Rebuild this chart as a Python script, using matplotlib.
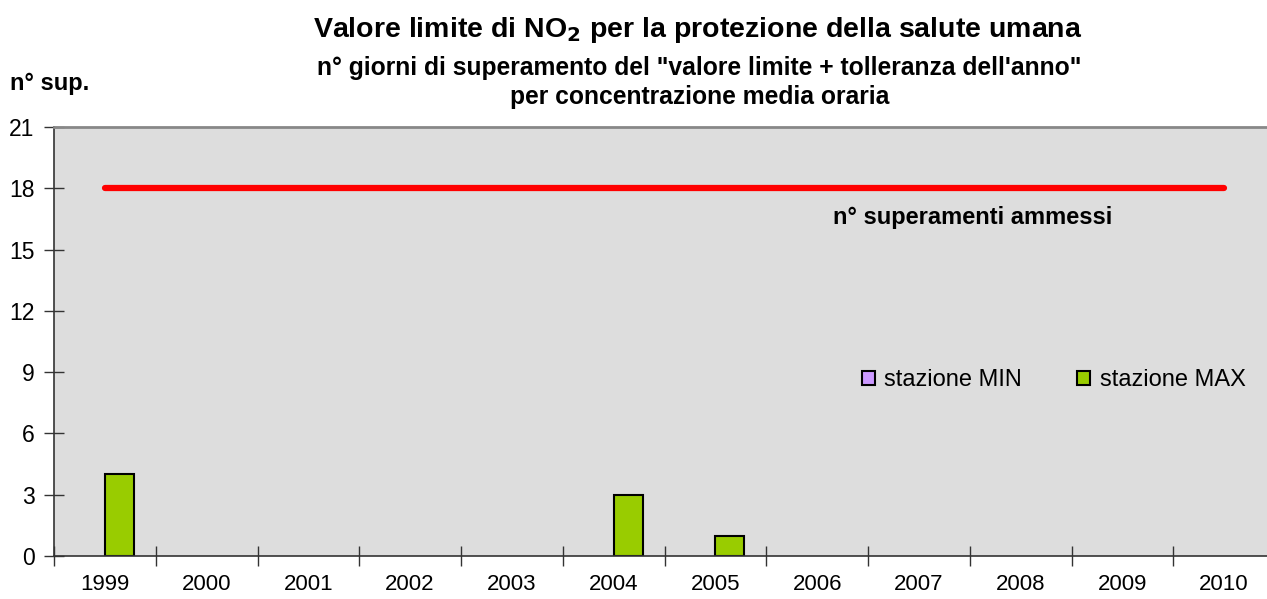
import numpy as np
import matplotlib.pyplot as plt

plt.rcParams['font.family'] = ['Liberation Sans', 'DejaVu Sans']

# Dati
anni = ['1999', '2000', '2001', '2002', '2003', '2004',
        '2005', '2006', '2007', '2008', '2009', '2010']
stazione_min = [0, 0, 0, 0, 0, 0, 0, 0, 0, 0, 0, 0]
stazione_max = [4, 0, 0, 0, 0, 3, 1, 0, 0, 0, 0, 0]
sup_ammessi = [18] * len(anni)

x = np.arange(len(anni))
w = 0.285

fig = plt.figure(figsize=(12.67, 5.99), dpi=100)
ax = fig.add_axes([54 / 1267, 43 / 599, 1221 / 1267, 429 / 599])
ax.set_facecolor('#DDDDDD')

ax.bar(x - w / 2, stazione_min, w, color='#CC99FF', edgecolor='black',
       linewidth=[1.5 if v > 0 else 0 for v in stazione_min], label='stazione MIN')
ax.bar(x + w / 2, stazione_max, w, color='#99CC00', edgecolor='black',
       linewidth=[1.5 if v > 0 else 0 for v in stazione_max], label='stazione MAX')
ax.plot(x, sup_ammessi, color='#FF0000', linewidth=4.5, solid_capstyle='round')

ax.set_xlim(-0.5, len(anni) - 0.5)
ax.set_ylim(0, 21)
ax.set_yticks(range(0, 22, 3))

# tacche ai bordi delle categorie, etichette al centro
ax.set_xticks(np.arange(len(anni) + 1) - 0.5)
ax.set_xticklabels([])
ax.set_xticks(x, minor=True)
ax.set_xticklabels(anni, minor=True)
ax.tick_params(axis='x', which='major', direction='inout', length=14, width=1, color='#333333')
ax.tick_params(axis='x', which='minor', length=0, pad=13, labelsize=16)
ax.tick_params(axis='y', direction='inout', length=14, width=1, color='#333333',
               labelsize=16.5, pad=7)

for s in ['left', 'bottom']:
    ax.spines[s].set_color('#333333')
    ax.spines[s].set_linewidth(1.2)
ax.spines['top'].set_color('#888888')
ax.spines['top'].set_linewidth(2)
ax.spines['right'].set_visible(False)

ax.text(0.638, 0.79, 'n° superamenti ammessi', transform=ax.transAxes,
        fontsize=17, fontweight='bold', ha='left', va='center')

leg = ax.legend(loc='center left', bbox_to_anchor=(0.644, 0.41), ncol=2, frameon=False,
                fontsize=17, handlelength=0.55, handleheight=0.55, handletextpad=0.4,
                columnspacing=2.35)
for h in leg.legend_handles:
    h.set_linewidth(1.5)

fig.text(0.551, 0.95, 'Valore limite di NO$_\\mathbf{2}$ per la protezione della salute umana',
         ha='center', va='center', fontsize=20.5, fontweight='bold')
fig.text(0.552, 0.886, 'n° giorni di superamento del "valore limite + tolleranza dell\'anno"',
         ha='center', va='center', fontsize=17.7, fontweight='bold')
fig.text(0.552, 0.838, 'per concentrazione media oraria',
         ha='center', va='center', fontsize=17.7, fontweight='bold')
fig.text(0.008, 0.861, 'n° sup.', ha='left', va='center', fontsize=17, fontweight='bold')

fig.savefig('out.png', dpi=100)
